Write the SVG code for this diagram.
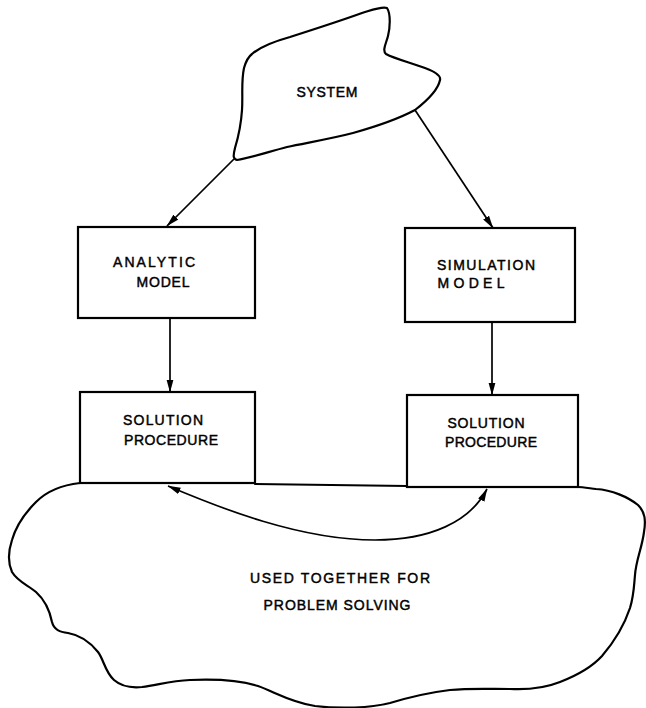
<svg xmlns="http://www.w3.org/2000/svg" width="646" height="708" viewBox="0 0 646 708">
<style>
.shape{fill:none;stroke:#000;stroke-width:2.2;stroke-linejoin:round;stroke-linecap:round}
.box{fill:none;stroke:#000;stroke-width:2.2}
.conn{fill:none;stroke:#000;stroke-width:1.7}
.t{font-family:"Liberation Sans",Arial,sans-serif;font-size:14px;fill:#000;stroke:#000;stroke-width:0.45;text-anchor:middle}
</style>
<defs>
<marker id="ah" viewBox="0 0 13 8" refX="12.5" refY="4" markerWidth="13" markerHeight="8" orient="auto-start-reverse" markerUnits="userSpaceOnUse">
<path d="M0,0.5 L13,4 L0,7.5 Z" fill="#000"/>
</marker>
</defs>
<rect width="646" height="708" fill="#fff"/>
<g id="system">
<path class="shape" d="M387,8 C391,14 390,28 388,36 C386,44 382,50 386,54 C395,59 412,63 425,68 C436,72 441,76 440,80 C438,90 428,100 415,110 C400,118 385,124 353,133 C330,139 305,143 287,147 C268,152 250,158 237,160 C233,159 233,156 235,148 C238,138 241,126 242,110 C243,95 241,82 244,68 C246,61 248,57 252,54 C260,47 272,42 290,37 C315,29 340,21 362,13 C372,10 382,6 387,8 Z"/>
<text class="t" x="327" y="97" textLength="61">SYSTEM</text>
</g>
<g id="problem-solving">
<path class="shape" d="M80,483 C62,485 48,490 36,502 C24,514 16,526 12,540 C8,552 8,563 12,572 C18,582 28,585 36,592 C46,601 50,612 52,622 C54,630 60,632 68,633 C80,635 90,642 98,652 C104,660 105,672 114,680 C122,687 132,688 142,687 C158,685 170,681 190,680 C215,679 240,680 258,686 C275,692 290,702 315,706 C340,709 370,708 390,703 C410,697 425,693 450,690 C470,688 490,689 510,689 C530,690 545,688 560,682 C578,675 592,667 602,656 C614,642 624,626 630,608 C634,595 634,585 635,575 C636,560 642,548 644,532 C646,520 645,512 638,505 C628,497 612,490 596,489 C588,488 582,487 578,487"/>
<text class="t" x="340" y="583" textLength="180">USED TOGETHER FOR</text>
<text class="t" x="337" y="610" textLength="147">PROBLEM SOLVING</text>
</g>
<g id="analytic-model">
<rect class="box" x="78" y="227" width="177" height="91"/>
<text class="t" x="154" y="267" textLength="82">ANALYTIC</text>
<text class="t" x="163" y="287" textLength="53">MODEL</text>
</g>
<g id="simulation-model">
<rect class="box" x="405" y="228" width="170" height="94"/>
<text class="t" x="486" y="270" textLength="98">SIMULATION</text>
<text class="t" x="471" y="288" textLength="67">MODEL</text>
</g>
<g id="solution-analytic">
<rect class="box" x="80" y="392" width="175" height="91"/>
<text class="t" x="163" y="425" textLength="80">SOLUTION</text>
<text class="t" x="171" y="445" textLength="94">PROCEDURE</text>
</g>
<g id="solution-simulation">
<rect class="box" x="407" y="395" width="171" height="92"/>
<text class="t" x="486" y="428" textLength="77">SOLUTION</text>
<text class="t" x="491" y="447" textLength="92">PROCEDURE</text>
</g>
<g id="connectors">
<line class="shape" x1="255" y1="484" x2="407" y2="486"/>
<line class="conn" x1="234" y1="159" x2="167" y2="226" marker-end="url(#ah)"/>
<line class="conn" x1="415" y1="110" x2="493" y2="228" marker-end="url(#ah)"/>
<line class="conn" x1="170" y1="318" x2="170" y2="392" marker-end="url(#ah)"/>
<line class="conn" x1="492" y1="322" x2="492" y2="395" marker-end="url(#ah)"/>
<path class="conn" d="M168,486 C220,508 300,540 375,540 C430,540 470,522 487,489" marker-start="url(#ah)" marker-end="url(#ah)"/>
</g>
</svg>
